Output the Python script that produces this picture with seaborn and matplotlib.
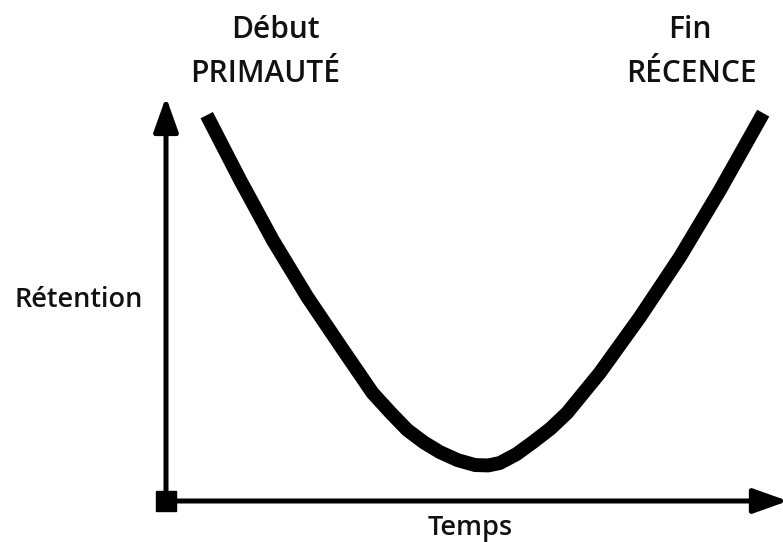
import numpy as np
import pandas as pd
import matplotlib
matplotlib.use('Agg')
import matplotlib.pyplot as plt
import seaborn as sns

# courbe de position sérielle (échelle 0-100)
temps = [6.6, 12.0, 17.3, 22.9, 28.7, 33.5, 36.5, 39.1, 41.8, 44.4, 47.3, 50.1,
         52.2, 54.1, 56.8, 59.5, 62.3, 65.0, 70.3, 76.8, 83.3, 89.8, 96.8]
retention = [95.5, 79.5, 64.6, 50.5, 37.4, 26.7, 21.7, 17.6, 14.5, 12.1, 10.1, 8.9,
             8.8, 9.4, 11.6, 14.6, 17.9, 21.8, 31.7, 45.5, 60.4, 77.0, 96.0]

top_labels = [('Début', 'PRIMAUTÉ'), ('Fin', 'RÉCENCE')]
x_label = 'Temps'
y_label = 'Rétention'

df = pd.DataFrame({'Temps': temps, 'Retention': retention})

sns.set_style('white')
plt.rcParams['font.family'] = ['Open Sans', 'DejaVu Sans']

W, H = 783, 542
fig = plt.figure(figsize=(W / 100, H / 100), dpi=100)
ax = fig.add_axes([166 / W, (H - 501) / H, (W - 166) / W, (501 - 97) / H])

sns.lineplot(data=df, x='Temps', y='Retention', sort=False, color='black',
             linewidth=10, solid_capstyle='butt', solid_joinstyle='round', ax=ax)

ax.set_xlim(0, 100)
ax.set_ylim(0, 100)
ax.set_xticks([])
ax.set_yticks([])
ax.set_xlabel('')
ax.set_ylabel('')
for s in ax.spines.values():
    s.set_visible(False)

# axes with arrow heads
arrow = dict(arrowstyle='-|>,head_length=21,head_width=7.5', lw=3.6,
             color='black', mutation_scale=1, shrinkA=0, shrinkB=0)
ax.annotate('', xy=(0, 1), xytext=(0, 0), xycoords='axes fraction',
            arrowprops=arrow, annotation_clip=False)
ax.annotate('', xy=(1.008, 0), xytext=(0, 0), xycoords='axes fraction',
            arrowprops=arrow, annotation_clip=False)
ax.plot([0], [0], marker='s', markersize=15, color='black', clip_on=False,
        transform=ax.transAxes)

txt = dict(fontsize=21.5, fontweight='semibold', color='#111111', ha='center', va='baseline')
fig.text(275 / W, 1 - 38 / H, top_labels[0][0], **txt)
fig.text(265 / W, 1 - 82 / H, top_labels[0][1], **txt)
fig.text(690 / W, 1 - 38 / H, top_labels[1][0], **txt)
fig.text(691 / W, 1 - 82 / H, top_labels[1][1], **txt)
fig.text(79 / W, 1 - 307 / H, y_label, fontsize=19.5, fontweight='semibold',
         color='#111111', ha='center', va='baseline')
fig.text(470 / W, 1 - 535 / H, x_label, fontsize=19.5, fontweight='semibold',
         color='#111111', ha='center', va='baseline')

plt.savefig('out.png', dpi=100)
plt.close(fig)
